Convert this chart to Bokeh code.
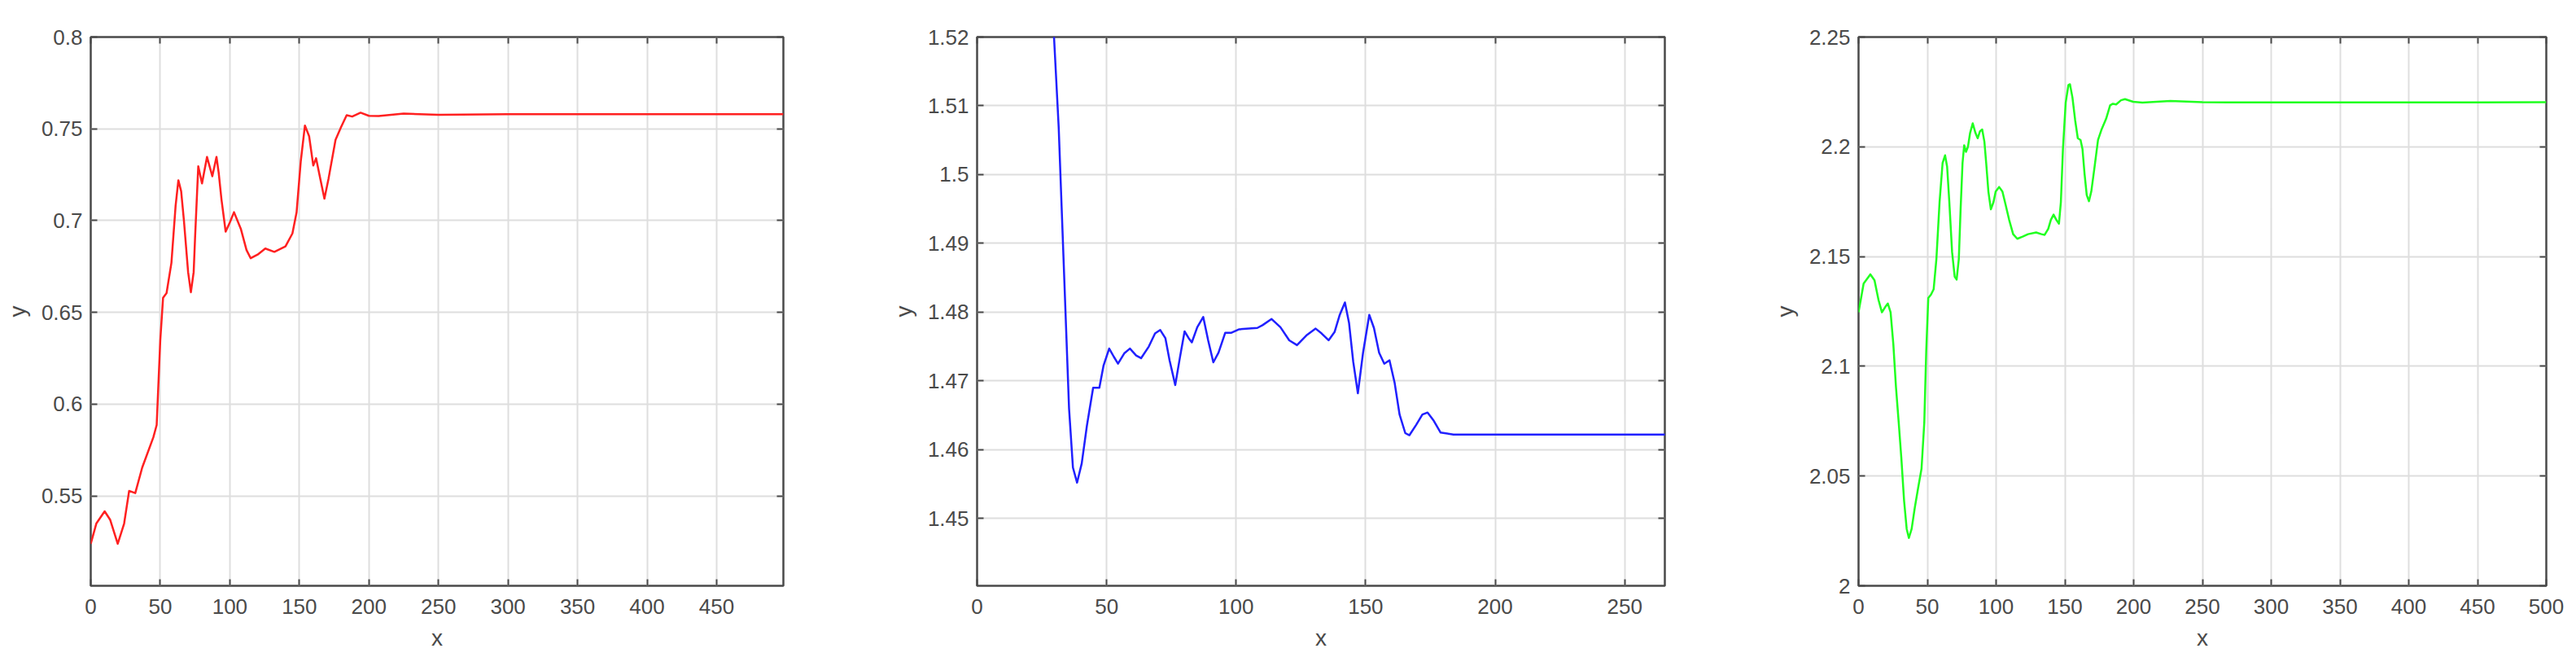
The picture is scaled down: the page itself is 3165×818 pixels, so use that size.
from bokeh.plotting import figure
from bokeh.layouts import row
from bokeh.models import Range1d, LinearAxis, FixedTicker, CustomJSTickFormatter
from bokeh.embed import file_html
from bokeh.resources import INLINE

# ---- Panel 1 (red) ----
x1 = [0, 4, 10, 14, 19.4, 24, 27.6, 32, 37, 45, 47.4, 50, 52, 54.5, 58, 61, 63, 65, 67, 70, 72, 74, 75,
      77.3, 80, 83.6, 87.4, 90.4, 92, 94, 97, 100, 103, 108, 112, 115, 120, 125.5, 132, 140, 145, 148,
      151, 154, 157, 160, 162, 165, 168, 171, 176, 180, 184, 188, 194, 200, 207, 225, 250, 300, 498]
y1 = [0.524, 0.535, 0.5417, 0.537, 0.524, 0.535, 0.5528, 0.5516, 0.5655, 0.582, 0.5887, 0.635, 0.658,
      0.6605, 0.677, 0.708, 0.722, 0.716, 0.700, 0.672, 0.661, 0.672, 0.6906, 0.7296, 0.7203, 0.7347,
      0.7242, 0.7347, 0.726, 0.7115, 0.694, 0.699, 0.7046, 0.6953, 0.684, 0.6795, 0.6815, 0.6848,
      0.683, 0.686, 0.693, 0.7045, 0.7323, 0.7518, 0.746, 0.730, 0.734, 0.723, 0.712, 0.723, 0.744,
      0.751, 0.7574, 0.7567, 0.7588, 0.7571, 0.757, 0.7583, 0.7576, 0.758, 0.758]
xticks1 = [0, 50, 100, 150, 200, 250, 300, 350, 400, 450]
yticks1 = [0.55, 0.6, 0.65, 0.7, 0.75, 0.8]

# ---- Panel 2 (blue) ----
x2 = [29, 29.7, 31.5, 34.1, 35.5, 37, 38.6, 40.4, 42.4, 44.8, 47.2, 48.8, 51, 52.8, 54.4, 56.8, 59,
      61.4, 63.3, 66.3, 68.7, 70.7, 72.7, 74.3, 76.5, 78.3, 80.1, 81.7, 82.9, 85, 87.3, 89.2, 91.2,
      93.2, 95.8, 98.2, 101.2, 108.2, 110.2, 113.7, 117.1, 120.5, 123.5, 127.1, 130.7, 133, 135.7,
      138, 140, 142, 143.6, 145.2, 147, 149, 151.4, 153.2, 155.2, 157.2, 159.2, 161.2, 163.1, 165.3,
      166.9, 169.5, 171.9, 173.9, 176.3, 178.9, 183.9, 266]
y2 = [1.5245, 1.52, 1.5069, 1.4803, 1.466, 1.4574, 1.4552, 1.458, 1.4635, 1.469, 1.469, 1.4722, 1.4747,
      1.4735, 1.4725, 1.474, 1.4747, 1.4737, 1.4733, 1.475, 1.4769, 1.4774, 1.4762, 1.4730, 1.4694,
      1.4734, 1.4772, 1.4762, 1.4756, 1.4778, 1.4793, 1.4759, 1.4727, 1.4741, 1.4770, 1.4770, 1.4775,
      1.4777, 1.4781, 1.4790, 1.4778, 1.4759, 1.4752, 1.4766, 1.4776, 1.4769, 1.4759, 1.4771, 1.4796,
      1.4814, 1.4784, 1.4728, 1.4682, 1.4741, 1.4796, 1.4777, 1.4741, 1.4725, 1.4730, 1.4697, 1.4651,
      1.4624, 1.4621, 1.4636, 1.4651, 1.4654, 1.4642, 1.4625, 1.4622, 1.4622]
xticks2 = [0, 50, 100, 150, 200, 250]
yticks2 = [1.45, 1.46, 1.47, 1.48, 1.49, 1.5, 1.51, 1.52]

# ---- Panel 3 (green) ----
x3 = [0, 3.7, 8.6, 11.6, 14.5, 17, 19.4, 21.3, 23.3, 25.3, 27.2, 29.2, 31.1, 33.1, 35, 36.6, 38.6,
      40.9, 43.3, 45.8, 47.8, 49.2, 50.7, 52.7, 54.6, 56.6, 58.9, 61.1, 62.9, 64.4, 66, 68, 69.9, 71.3,
      72.9, 74.2, 75.6, 76.8, 78.1, 79.5, 81.1, 83, 85, 86.6, 88.3, 89.9, 91.5, 92.8, 94.4, 96.2, 98.1,
      99.7, 102.2, 104.6, 107.1, 109.5, 112.4, 115.4, 119.3, 123.2, 129.1, 133, 135.3, 137.9, 139.8,
      141.8, 143.8, 145.7, 147.1, 148.6, 150.6, 152.6, 153.7, 155.5, 157.5, 159.4, 161.4, 162.8,
      164.3, 165.9, 167.5, 169.2, 171.6, 174.1, 176.5, 180, 182.9, 184.9, 187.3, 190.8, 193.7, 199.6,
      206.4, 226.7, 250, 268.4, 500]
y3 = [2.1246, 2.1377, 2.1419, 2.1392, 2.1303, 2.1246, 2.127, 2.1286, 2.1246, 2.11, 2.0906, 2.0744,
      2.0583, 2.0388, 2.0259, 2.0218, 2.0259, 2.0356, 2.0445, 2.0534, 2.0744, 2.1068, 2.1311, 2.1327,
      2.1351, 2.1489, 2.1748, 2.1926, 2.1961, 2.1909, 2.1748, 2.1521, 2.1408, 2.1395, 2.1489, 2.1716,
      2.1926, 2.2007, 2.1977, 2.1999, 2.2063, 2.2107, 2.2063, 2.2039, 2.2071, 2.2079, 2.2023, 2.1926,
      2.1796, 2.1715, 2.1748, 2.1796, 2.1817, 2.1796, 2.1731, 2.1667, 2.1602, 2.1581, 2.1591, 2.1602,
      2.161, 2.1602, 2.1599, 2.1626, 2.1667, 2.1691, 2.1667, 2.165, 2.1748, 2.199, 2.2201, 2.2282,
      2.2285, 2.2225, 2.212, 2.2039, 2.2031, 2.199, 2.1877, 2.178, 2.1752, 2.1796, 2.1909, 2.2031,
      2.2076, 2.2128, 2.2189, 2.2196, 2.2193, 2.2212, 2.2217, 2.2205, 2.2201, 2.2209, 2.2203, 2.2202,
      2.2203]
xticks3 = [0, 50, 100, 150, 200, 250, 300, 350, 400, 450, 500]
yticks3 = [2, 2.05, 2.1, 2.15, 2.2, 2.25]

TEXT = "#4a4a4a"
FRAME = "#4a4a4a"
FONT = "Liberation Sans"

fmt_js = "return tick.toFixed(3).replace(/\\.?0+$/, '');"


def mirror_axis(ticks):
    # tick marks only (MATLAB box ticks on the opposite sides), no labels drawn
    return LinearAxis(ticker=FixedTicker(ticks=ticks), axis_line_color=None,
                      major_tick_in=8, major_tick_out=0, major_tick_line_color=FRAME,
                      major_tick_line_width=2, minor_tick_line_color=None,
                      major_label_text_font_size="1px", major_label_text_color=None,
                      major_label_standoff=0)


def make(xs, ys, color, xr, yr, xt, yt, width, left_border, right_border):
    p = figure(width=width, height=810, x_range=Range1d(*xr), y_range=Range1d(*yr),
               output_backend="svg", toolbar_location=None,
               min_border_left=left_border, min_border_right=right_border,
               min_border_top=45, min_border_bottom=91)
    p.line(xs, ys, line_color=color, line_width=2.5, line_join="round")
    p.outline_line_color = FRAME
    p.outline_line_width = 2.5
    p.outline_line_alpha = 1.0
    p.background_fill_color = "white"
    p.border_fill_color = "white"

    p.xaxis.ticker = FixedTicker(ticks=xt)
    p.yaxis.ticker = FixedTicker(ticks=yt)
    p.yaxis.formatter = CustomJSTickFormatter(code=fmt_js)
    for ax in (p.xaxis[0], p.yaxis[0]):
        ax.axis_line_color = None
        ax.major_tick_in = 8
        ax.major_tick_out = 0
        ax.major_tick_line_color = FRAME
        ax.major_tick_line_width = 2
        ax.minor_tick_line_color = None
        ax.major_label_text_font = FONT
        ax.major_label_text_font_size = "26px"
        ax.major_label_text_color = TEXT
        ax.axis_label_text_font = FONT
        ax.axis_label_text_font_size = "28px"
        ax.axis_label_text_font_style = "normal"
        ax.axis_label_text_color = TEXT
    p.xaxis.axis_label = "x"
    p.yaxis.axis_label = "y"
    p.xaxis.major_label_standoff = 16
    p.xaxis.axis_label_standoff = 11
    p.yaxis.major_label_standoff = 10
    p.yaxis.axis_label_standoff = 11

    p.xgrid.ticker = FixedTicker(ticks=xt)
    p.ygrid.ticker = FixedTicker(ticks=yt)
    for g in (p.xgrid[0], p.ygrid[0]):
        g.grid_line_color = "#dedede"
        g.grid_line_width = 2

    p.add_layout(mirror_axis(yt), "right")
    p.add_layout(mirror_axis(xt), "above")
    return p


p1 = make(x1, y1, "#ff2020", (0, 498), (0.5011, 0.8), xticks1, yticks1, 1091, 111, 129)
p2 = make(x2, y2, "#2020ff", (0, 265.5), (1.4402, 1.52), xticks2, yticks2, 1083, 103, 129)
p3 = make(x3, y3, "#20ff20", (0, 500), (2.0, 2.25), xticks3, yticks3, 979, 103, 25)

layout = row(p1, p2, p3, spacing=0)
open("out.html", "w").write(file_html(layout, INLINE))
